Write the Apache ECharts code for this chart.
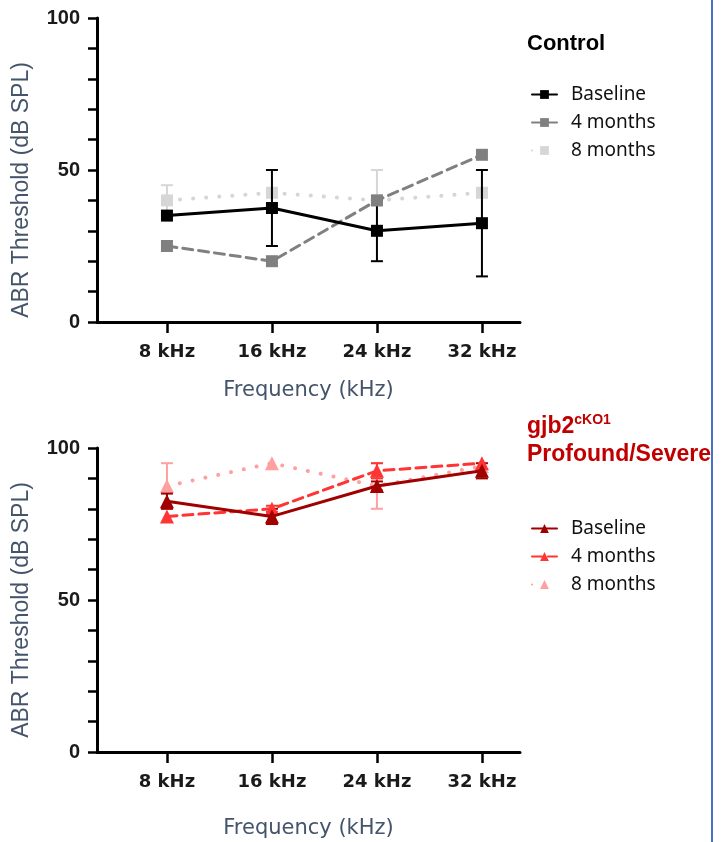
<!DOCTYPE html>
<html>
<head>
<meta charset="utf-8">
<script src="https://cdn.jsdelivr.net/npm/echarts@6/dist/echarts.min.js"></script>
<style>
html,body{margin:0;padding:0;background:#fff;}
#chart{width:721px;height:842px;}
</style>
</head>
<body>
<div id="chart"></div>
<script>
// ---- data ----
const freqs = [8, 16, 24, 32];
const freqLabels = ['8 kHz', '16 kHz', '24 kHz', '32 kHz'];
const yTickLabels = [0, 50, 100];
const groupNames = ['Baseline', '4 months', '8 months'];

const ctlBaseline = [35, 37.5, 30, 32.5];
const ctlBaselineErr = [null, 12.5, 10, 17.5];
const ctl4m = [25, 20, 40, 55];
const ctl4mErr = [null, null, null, null];
const ctl8m = [40, 42.5, 40, 42.5];
const ctl8mErr = [5, null, 10, null];

const koBaseline = [82.5, 77.5, 87.5, 92.5];
const koBaselineErr = [2.5, 2.5, 1.5, 2.5];
const ko4m = [77.5, 80, 92.5, 95];
const ko4mErr = [null, 1, 2.5, null];
const ko8m = [87.5, 95, 87.5, 94];
const ko8mErr = [7.5, null, 7.5, null];

// ---- styles ----
const ctlColors = ['#000000', '#808080', '#d6d6d6'];
const koColors = ['#a00000', '#ff3535', '#ffa0a0'];
const lineTypes = ['solid', [10, 6], [0.1, 13]];
const lineWidths = [3, 3, 4];
const titleColor = '#44546a';

function pts(vals) { return freqs.map((f, i) => [f, vals[i]]); }

function lineSeries(name, idx, vals, color, k, symbol) {
  return {
    type: 'line', name: name, xAxisIndex: idx, yAxisIndex: idx,
    data: pts(vals), symbol: symbol, symbolSize: symbol === 'rect' ? 12 : 14,
    z: 3 + (2 - k),
    lineStyle: { color: color, width: lineWidths[k], type: lineTypes[k], cap: 'round' },
    itemStyle: { color: color },
    emphasis: { disabled: true }
  };
}

function errSeries(idx, vals, errs, color, k) {
  const data = [];
  freqs.forEach((f, i) => { if (errs[i] != null) data.push([f, vals[i] - errs[i], vals[i] + errs[i]]); });
  return {
    type: 'custom', xAxisIndex: idx, yAxisIndex: idx, z: 2 + (2 - k),
    data: data, encode: { x: 0, y: [1, 2] }, silent: true,
    renderItem: function (params, api) {
      const x = api.value(0);
      const lo = api.coord([x, api.value(1)]);
      const hi = api.coord([x, api.value(2)]);
      const w = 6;
      const st = { stroke: color, lineWidth: 2 };
      return { type: 'group', children: [
        { type: 'line', shape: { x1: lo[0], y1: lo[1], x2: hi[0], y2: hi[1] }, style: st },
        { type: 'line', shape: { x1: hi[0] - w, y1: hi[1], x2: hi[0] + w, y2: hi[1] }, style: st },
        { type: 'line', shape: { x1: lo[0] - w, y1: lo[1], x2: lo[0] + w, y2: lo[1] }, style: st }
      ] };
    }
  };
}

function xAxisCfg(idx, nameGap) {
  return {
    type: 'value', gridIndex: idx, min: 2.67, max: 34.9,
    splitLine: { show: false },
    axisLine: { lineStyle: { color: '#000', width: 3 } },
    axisTick: { customValues: freqs, length: 11, lineStyle: { color: '#000', width: 2.5 } },
    axisLabel: {
      customValues: freqs, margin: 21,
      formatter: v => freqLabels[freqs.indexOf(v)] || '',
      fontFamily: 'DejaVu Sans', fontWeight: 'bold', fontSize: 18, color: '#1a1a1a'
    },
    name: 'Frequency (kHz)', nameLocation: 'middle', nameGap: nameGap,
    nameTextStyle: { fontFamily: 'DejaVu Sans', fontSize: 21, color: titleColor }
  };
}
function yAxisCfg(idx) {
  return {
    type: 'value', gridIndex: idx, min: 0, max: 100, interval: 10,
    splitLine: { show: false },
    axisLine: { show: true, lineStyle: { color: '#000', width: 3 } },
    axisTick: { show: true, length: 9, lineStyle: { color: '#000', width: 2.5 } },
    axisLabel: {
      margin: 17, formatter: v => (yTickLabels.indexOf(v) >= 0 ? String(v) : ''),
      fontFamily: 'Liberation Sans', fontWeight: 'bold', fontSize: 20, color: '#1a1a1a'
    }
  };
}

const series = [];
[2, 1, 0].forEach(k => {
  const cv = [ctlBaseline, ctl4m, ctl8m][k], ce = [ctlBaselineErr, ctl4mErr, ctl8mErr][k];
  series.push(errSeries(0, cv, ce, ctlColors[k], k));
  series.push(lineSeries('Control|' + groupNames[k], 0, cv, ctlColors[k], k, 'rect'));
  const kv = [koBaseline, ko4m, ko8m][k], ke = [koBaselineErr, ko4mErr, ko8mErr][k];
  series.push(errSeries(1, kv, ke, koColors[k], k));
  series.push(lineSeries('KO|' + groupNames[k], 1, kv, koColors[k], k, 'triangle'));
});

const legendText = { fontFamily: 'Noto Sans', fontSize: 19, color: '#111', padding: [0, 0, 0, 9] };

const option = {
  animation: false,
  backgroundColor: '#fff',
  grid: [
    { left: 97, top: 18, width: 423, height: 304 },
    { left: 97, top: 448, width: 423, height: 304 }
  ],
  xAxis: [xAxisCfg(0, 58), xAxisCfg(1, 66)],
  yAxis: [yAxisCfg(0), yAxisCfg(1)],
  title: [
    { text: 'Control', left: 522, top: 28,
      textStyle: { fontFamily: 'Liberation Sans', fontWeight: 'bold', fontSize: 22, color: '#000' } },
    { text: '{a|gjb2}{s|cKO1}\n{a|Profound/Severe}', left: 522, top: 408,
      textStyle: { rich: {
        a: { fontFamily: 'Liberation Sans', fontWeight: 'bold', fontSize: 23, color: '#c00000', lineHeight: 28 },
        s: { fontFamily: 'Liberation Sans', fontWeight: 'bold', fontSize: 14, color: '#c00000', verticalAlign: 'top', lineHeight: 28, padding: [0, 0, 6, 0] }
      } } }
  ],
  legend: [
    { orient: 'vertical', left: 526, top: 80, itemWidth: 25, itemHeight: 11, itemGap: 9,
      data: groupNames.map(n => 'Control|' + n), formatter: n => n.split('|')[1],
      textStyle: legendText, selectedMode: false },
    { orient: 'vertical', left: 526, top: 514, itemWidth: 25, itemHeight: 11, itemGap: 9,
      data: groupNames.map(n => 'KO|' + n), formatter: n => n.split('|')[1],
      textStyle: legendText, selectedMode: false }
  ],
  graphic: [
    { type: 'text', x: 22, y: 190, rotation: Math.PI / 2,
      style: { text: 'ABR Threshold (dB SPL)', fontFamily: 'Liberation Sans', fontSize: 23, fill: titleColor, align: 'center', verticalAlign: 'middle' } },
    { type: 'text', x: 22, y: 610, rotation: Math.PI / 2,
      style: { text: 'ABR Threshold (dB SPL)', fontFamily: 'Liberation Sans', fontSize: 23, fill: titleColor, align: 'center', verticalAlign: 'middle' } },
    { type: 'line', shape: { x1: 712, y1: 0, x2: 712, y2: 842 }, style: { stroke: '#4472c4', lineWidth: 2 }, z: 100 }
  ],
  series: series
};

const chart = echarts.init(document.getElementById('chart'), null, { renderer: 'canvas' });
chart.setOption(option);
</script>
</body>
</html>
